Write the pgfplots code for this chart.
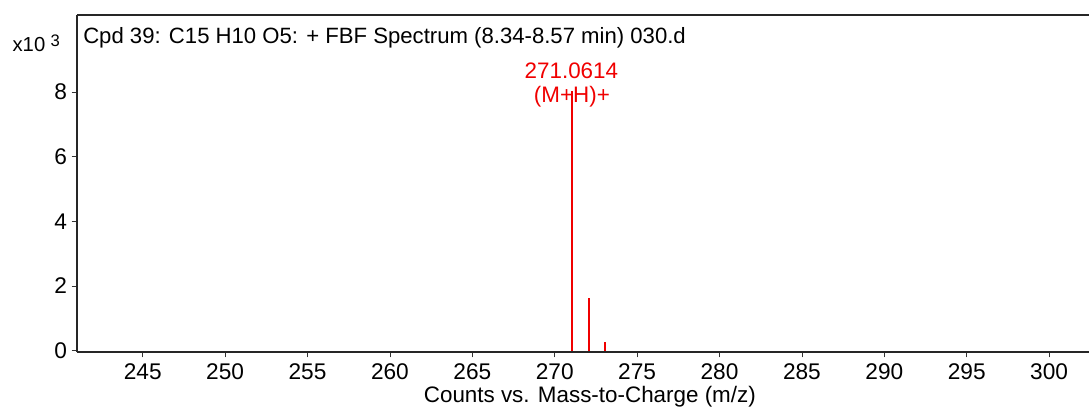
\documentclass[border=0pt]{standalone}
\usepackage{pgfplots}
\pgfplotsset{compat=1.18}
\usepackage{fontspec}
\setmainfont{Liberation Sans}
\definecolor{peakred}{RGB}{240,0,0}
\begin{document}
\begin{tikzpicture}
\path[use as bounding box] (-57.75pt,-41.25pt) rectangle (759pt,264pt);
\begin{axis}[
  at={(0,0)}, anchor=south west,
  scale only axis, width=759pt, height=252.75pt,
  xmin=241.01, xmax=302.42, ymin=-0.04, ymax=10.38,
  axis x line*=bottom, axis y line*=left,
  axis line style={line width=0.9pt, color=black!85},
  xtick={245,250,...,300}, ytick={0,2,4,6,8},
  tick align=outside, major tick length=4pt,
  tick style={line width=0.6pt, color=black!80},
  /pgf/number format/assume math mode=true,
  tick label style={font=\fontsize{17}{20}\selectfont},
  xticklabel style={yshift=-1.5pt},
  clip=false,
]
\draw[line width=0.9pt, color=black!85] (rel axis cs:0,1) -- (rel axis cs:1,1);
\addplot[ycomb, color=peakred, line width=1.3pt, mark=none] coordinates {
  (271.0614,8.02) (272.065,1.63) (273.068,0.27)
};
\node[anchor=west, font=\fontsize{16.6}{19}\selectfont, inner sep=0pt] at ([xshift=4.5pt,yshift=-16.8pt]rel axis cs:0,1) {Cpd 39: C15 H10 O5: + FBF Spectrum (8.34-8.57 min) 030.d};
\node[font=\fontsize{16.8}{19}\selectfont, color=peakred, inner sep=0pt] at (axis cs:271.01,8.65) {271.0614};
\node[font=\fontsize{16.8}{19}\selectfont, color=peakred, inner sep=0pt] at (axis cs:271.04,7.84) {(M+H)+};
\node[font=\fontsize{16.8}{19}\selectfont, inner sep=0pt] at ([yshift=-34.5pt]axis cs:272.13,0) {Counts vs. Mass-to-Charge (m/z)};
\node[anchor=west, font=\fontsize{15.2}{18}\selectfont, inner sep=0pt] at ([xshift=-48.5pt,yshift=-21.5pt]rel axis cs:0,1) {x10\hspace{4pt}\raisebox{0.45ex}{\fontsize{12.5}{14}\selectfont 3}};
\end{axis}
\end{tikzpicture}
\end{document}
